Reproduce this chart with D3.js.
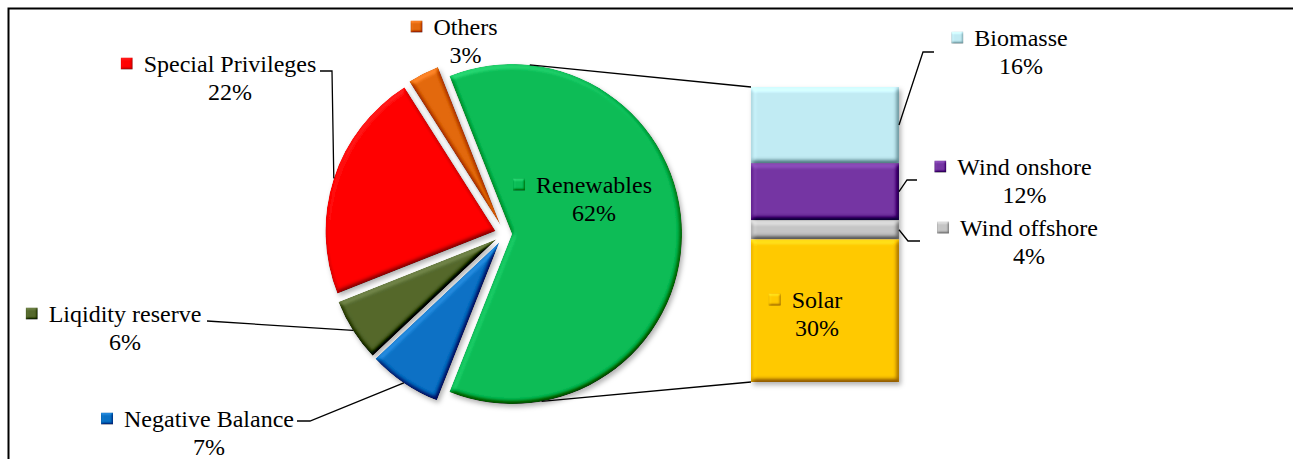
<!DOCTYPE html>
<html>
<head>
<meta charset="utf-8">
<script src="https://cdn.jsdelivr.net/npm/d3@7"></script>
<style>
  body { margin: 0; background: #fff; }
  svg text { font-family: "Liberation Serif", "Times New Roman", serif; font-size: 24px; fill: #000; }
</style>
</head>
<body>
<div id="chart"></div>
<script>
// pie part
var pieLabels = ["Renewables", "Negative Balance", "Liqidity reserve", "Special Privileges", "Others"];
var pieValues = [62, 7, 6, 22, 3];
// bar part (split of Renewables)
var barLabels = ["Biomasse", "Wind onshore", "Wind offshore", "Solar"];
var barValues = [16, 12, 4, 30];

var colors = {
  "Renewables": "#0abb55",
  "Negative Balance": "#0a70c4",
  "Liqidity reserve": "#53672b",
  "Special Privileges": "#ff0000",
  "Others": "#e2680c",
  "Biomasse": "#c0eaf2",
  "Wind onshore": "#7434a2",
  "Wind offshore": "#c4c4c4",
  "Solar": "#ffc800"
};

// where labels sit (text centre x, first baseline y) and their leader bends
var layout = {
  "Others":             { x: 465.5, y: 35 },
  "Special Privileges": { x: 230,   y: 72,  leader: [[320, 71], [332, 71]] },
  "Renewables":         { x: 594,   y: 193 },
  "Liqidity reserve":   { x: 125,   y: 322, leader: [[207, 321]] },
  "Negative Balance":   { x: 209,   y: 427, leader: [[297, 421], [310, 421]] },
  "Biomasse":           { x: 1021,  y: 46,  leader: [[923, 52], [934, 52]] },
  "Wind onshore":       { x: 1024.5, y: 175, leader: [[907, 180], [917, 180]] },
  "Wind offshore":      { x: 1029,  y: 236, leader: [[908, 241], [920, 241]] },
  "Solar":              { x: 817,   y: 308 }
};

var W = 1293, H = 459;
var cx = 505, cy = 234, R = 170;
var barX = 751, barW = 148;

var svg = d3.select("#chart").append("svg")
    .attr("width", W).attr("height", H);

var defs = svg.append("defs");

function bevel(id, blur, scale) {
  var f = defs.append("filter").attr("id", id)
      .attr("x", "-5%").attr("y", "-5%").attr("width", "110%").attr("height", "110%")
      .attr("color-interpolation-filters", "sRGB");
  f.append("feGaussianBlur").attr("in", "SourceAlpha").attr("stdDeviation", blur).attr("result", "b");
  f.append("feDiffuseLighting").attr("in", "b").attr("surfaceScale", scale)
      .attr("diffuseConstant", 1).attr("lighting-color", "#fff").attr("result", "light")
    .append("feDistantLight").attr("azimuth", 245).attr("elevation", 60);
  f.append("feComposite").attr("in", "SourceGraphic").attr("in2", "light")
      .attr("operator", "arithmetic").attr("k1", 0).attr("k2", 1).attr("k3", 0.8).attr("k4", -0.69)
      .attr("result", "lit");
  f.append("feComposite").attr("in", "lit").attr("in2", "SourceAlpha").attr("operator", "in");
}
bevel("bevel", 2.5, 3);
bevel("bevelSmall", 1.2, 1.2);

defs.append("filter").attr("id", "shadow")
    .attr("x", "-10%").attr("y", "-10%").attr("width", "125%").attr("height", "125%")
  .append("feDropShadow").attr("dx", 2).attr("dy", 3).attr("stdDeviation", 2.5)
    .attr("flood-color", "#000").attr("flood-opacity", 0.3);

// frame (only top and left show)
svg.append("rect").attr("x", 8.5).attr("y", 8.5).attr("width", W + 20).attr("height", H + 20)
    .attr("fill", "none").attr("stroke", "#000").attr("stroke-width", 2);

// ---- pie ----
var total = d3.sum(pieValues);
var share = pieValues[0] / total;
var start = Math.PI / 2 - share * Math.PI;
var pie = d3.pie().sort(null).value(function(d) { return d.v; })
    .startAngle(start).endAngle(start + 2 * Math.PI);
var arcs = pie(pieLabels.map(function(l, i) { return { name: l, v: pieValues[i] }; }));
var arc = d3.arc().innerRadius(0).outerRadius(R);

function explode(d) { return d.index === 0 ? 7 : 10; }
function off(d) {
  var m = (d.startAngle + d.endAngle) / 2, e = explode(d);
  return [e * Math.sin(m), -e * Math.cos(m)];
}
// point on a slice's arc at its middle angle
function rimPoint(d) {
  var m = (d.startAngle + d.endAngle) / 2, o = off(d);
  return [cx + o[0] + R * Math.sin(m), cy + o[1] - R * Math.cos(m)];
}

var pieG = svg.append("g").attr("filter", "url(#shadow)");
pieG.selectAll("path").data(arcs).enter().append("path")
    .attr("d", arc)
    .attr("transform", function(d) { var o = off(d); return "translate(" + (cx + o[0]) + "," + (cy + o[1]) + ")"; })
    .attr("fill", function(d) { return colors[d.data.name]; })
    .attr("filter", "url(#bevel)");

// ---- bar ----
var barTotal = d3.sum(barValues);
var y = d3.scaleLinear().domain([0, barTotal]).range([87, 382]);
var cum = 0;
var segs = barLabels.map(function(l, i) {
  var s = { name: l, v: barValues[i], y0: cum, y1: cum + barValues[i] };
  cum += barValues[i];
  return s;
});

var barG = svg.append("g").attr("filter", "url(#shadow)");
barG.selectAll("rect").data(segs).enter().append("rect")
    .attr("x", barX).attr("width", barW)
    .attr("y", function(d) { return y(d.y0); })
    .attr("height", function(d) { return y(d.y1) - y(d.y0); })
    .attr("fill", function(d) { return colors[d.name]; })
    .attr("filter", "url(#bevel)");

// ---- connector lines: from the split slice rim to the bar corners ----
var gOff = off(arcs[0]);
var gc = [cx + gOff[0], cy + gOff[1]];
function rim(deg) {
  var a = deg * Math.PI / 180;
  return [gc[0] + R * Math.sin(a), gc[1] - R * Math.cos(a)];
}
var topC = [barX, y(0)], botC = [barX, y(barTotal)];
var line = d3.line();
svg.append("path").attr("d", line([rim(6), topC]))
    .attr("fill", "none").attr("stroke", "#000").attr("stroke-width", 1.3);
svg.append("path").attr("d", line([rim(170), botC]))
    .attr("fill", "none").attr("stroke", "#000").attr("stroke-width", 1.3);

// ---- labels ----
var anchors = {};
arcs.forEach(function(d) { anchors[d.data.name] = rimPoint(d); });
segs.forEach(function(s) { anchors[s.name] = [barX + barW, (y(s.y0) + y(s.y1)) / 2]; });

var items = arcs.map(function(d) { return { name: d.data.name, v: d.data.v }; })
    .concat(segs.map(function(s) { return { name: s.name, v: s.v }; }));

var labG = svg.append("g");
items.forEach(function(it) {
  var L = layout[it.name];
  if (L.leader) {
    var pts = /Biomasse|Wind/.test(it.name) ? [anchors[it.name]].concat(L.leader) : L.leader.concat([anchors[it.name]]);
    labG.append("path").attr("d", line(pts))
        .attr("fill", "none").attr("stroke", "#000").attr("stroke-width", 1.3);
  }
  var t1 = labG.append("text").attr("x", L.x).attr("y", L.y)
      .attr("text-anchor", "middle").text(it.name);
  labG.append("text").attr("x", L.x).attr("y", L.y + 27.5)
      .attr("text-anchor", "middle").text(it.v + "%");
  var len = t1.node().getComputedTextLength();
  labG.append("rect")
      .attr("x", L.x - len / 2 - 11 - 12).attr("y", L.y - 14.5)
      .attr("width", 12).attr("height", 12)
      .attr("fill", colors[it.name])
      .attr("filter", "url(#bevelSmall)");
});
</script>
</body>
</html>
